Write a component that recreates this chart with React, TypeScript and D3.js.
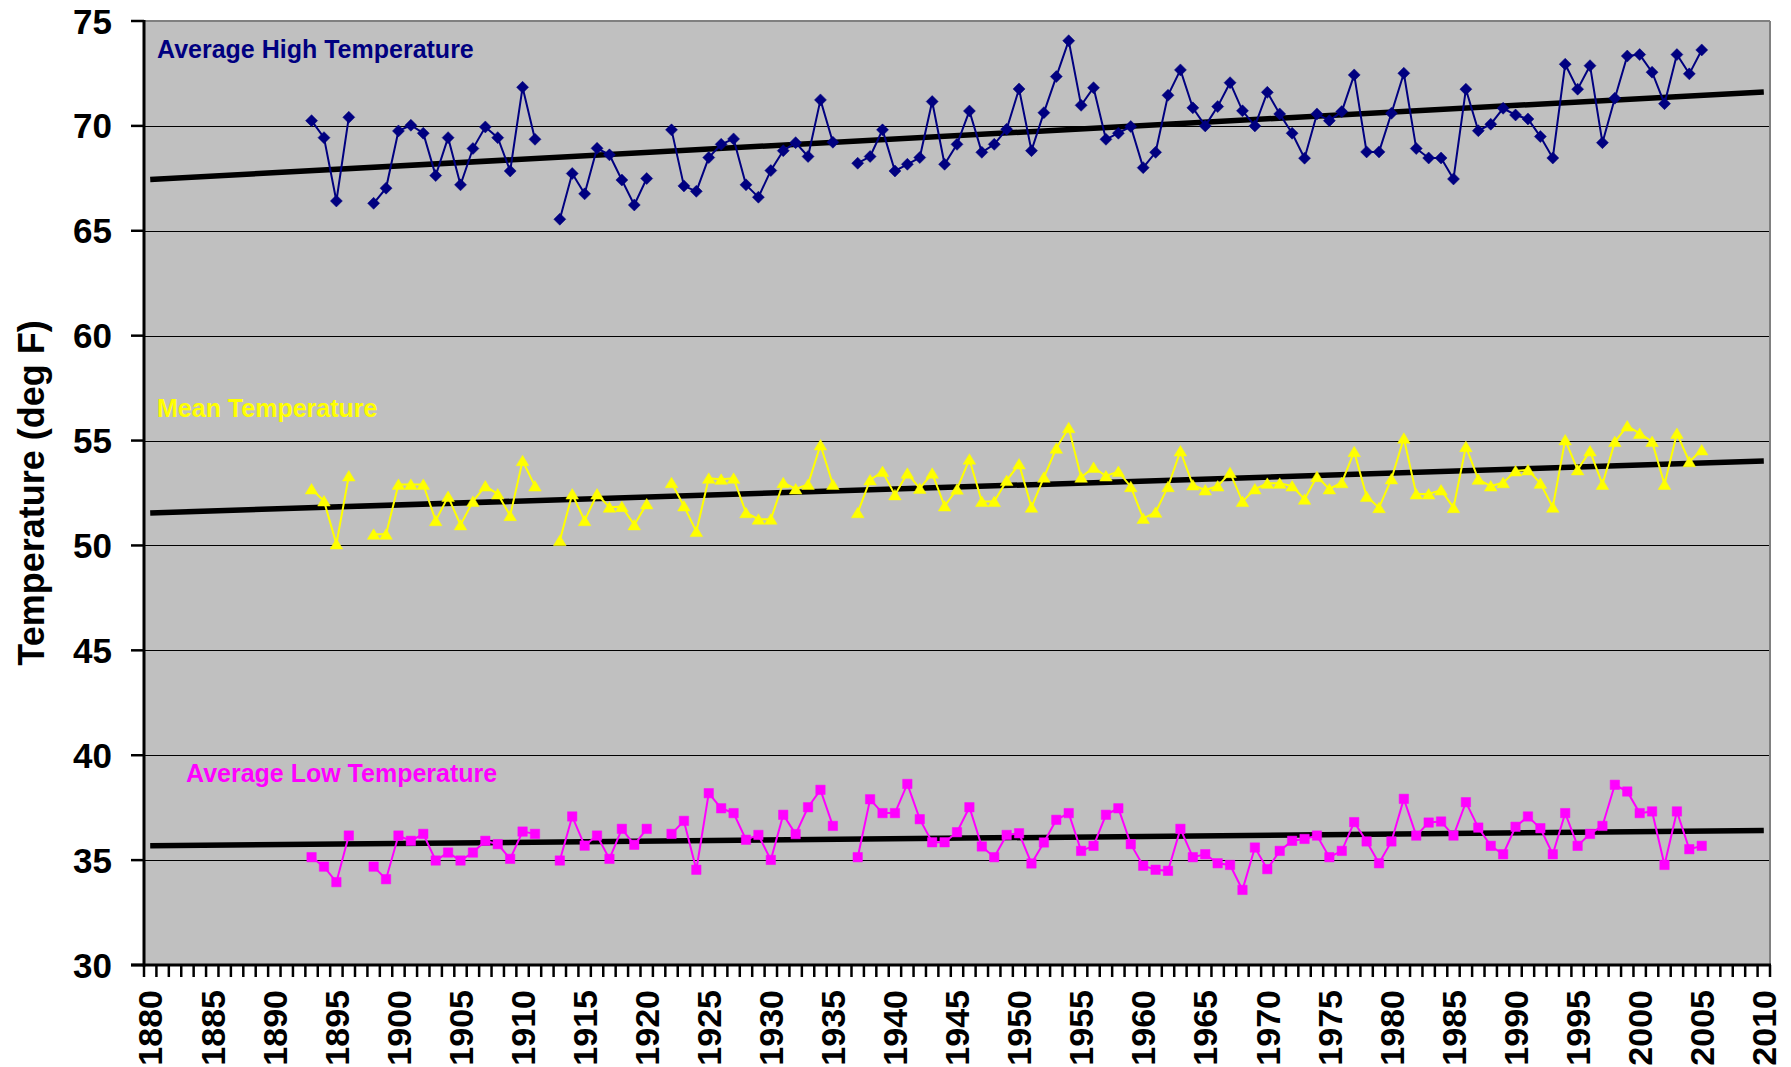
import React from 'react';
import * as d3 from 'd3';

// Category axis: one category per year
const firstYear = 1880;
const lastYear = 2010;
const labelYears = [1880, 1885, 1890, 1895, 1900, 1905, 1910, 1915, 1920, 1925, 1930, 1935, 1940, 1945, 1950, 1955, 1960, 1965, 1970, 1975, 1980, 1985, 1990, 1995, 2000, 2005, 2010];
const yTicks = [30, 35, 40, 45, 50, 55, 60, 65, 70, 75];

// Observed data years 1893..2005 (null = missing year)
const dataStartYear = 1893;

const highTemps: (number | null)[] = [
  70.25, 69.44, 66.42, 70.41, null, 66.31, 67.03,
  69.76, 70.03, 69.65, 67.63, 69.44, 67.19, 68.92, 69.95, 69.44, 67.85,
  71.84, 69.36, null, 65.55, 67.73, 66.76, 68.93, 68.62, 67.42, 66.23,
  67.49, null, 69.81, 67.14, 66.88, 68.49, 69.12, 69.38, 67.19, 66.60,
  67.87, 68.82, 69.20, 68.54, 71.24, 69.22, null, 68.22, 68.54, 69.81,
  67.85, 68.17, 68.49, 71.16, 68.17, 69.12, 70.71, 68.74, 69.12, 69.84,
  71.76, 68.82, 70.63, 72.35, 74.06, 70.98, 71.82, 69.36, 69.65, 69.97,
  68.01, 68.74, 71.46, 72.67, 70.86, 70.00, 70.92, 72.06, 70.72, 70.00,
  71.60, 70.57, 69.65, 68.46, 70.57, 70.25, 70.68, 72.43, 68.76, 68.76,
  70.60, 72.51, 68.92, 68.47, 68.47, 67.47, 71.75, 69.77, 70.08, 70.84,
  70.52, 70.33, 69.49, 68.47, 72.94, 71.75, 72.87, 69.20, 71.32, 73.33,
  73.40, 72.56, 71.06, 73.40, 72.48, 73.62,
];

const meanTemps: (number | null)[] = [
  52.69, 52.12, 50.07, 53.31, null, 50.53, 50.53,
  52.91, 52.91, 52.91, 51.18, 52.33, 50.98, 52.10, 52.83, 52.45, 51.42,
  54.04, 52.83, null, 50.23, 52.45, 51.18, 52.45, 51.82, 51.85, 50.98,
  51.98, null, 52.99, 51.88, 50.66, 53.20, 53.15, 53.20, 51.56, 51.25,
  51.25, 52.99, 52.69, 52.91, 54.79, 52.91, null, 51.56, 53.12, 53.52,
  52.41, 53.44, 52.72, 53.44, 51.88, 52.68, 54.11, 52.09, 52.09, 53.09,
  53.88, 51.82, 53.25, 54.63, 55.61, 53.25, 53.72, 53.31, 53.52, 52.80,
  51.29, 51.58, 52.80, 54.50, 52.88, 52.64, 52.83, 53.47, 52.09, 52.69,
  52.96, 52.96, 52.83, 52.20, 53.28, 52.69, 52.99, 54.47, 52.33, 51.80,
  53.17, 55.11, 52.45, 52.45, 52.64, 51.80, 54.71, 53.15, 52.83, 52.99,
  53.55, 53.60, 52.96, 51.82, 55.03, 53.60, 54.50, 52.91, 54.95, 55.69,
  55.34, 54.95, 52.91, 55.34, 53.99, 54.55,
];

const lowTemps: (number | null)[] = [
  35.14, 34.69, 33.95, 36.17, null, 34.69, 34.09,
  36.17, 35.92, 36.25, 34.98, 35.36, 34.98, 35.36, 35.92, 35.76, 35.06,
  36.36, 36.25, null, 34.98, 37.08, 35.69, 36.17, 35.06, 36.49, 35.73,
  36.49, null, 36.25, 36.87, 34.54, 38.19, 37.47, 37.24, 35.97, 36.20,
  35.01, 37.16, 36.24, 37.52, 38.35, 36.63, null, 35.14, 37.90, 37.24,
  37.24, 38.63, 36.95, 35.85, 35.85, 36.33, 37.52, 35.65, 35.14, 36.20,
  36.28, 34.84, 35.84, 36.92, 37.24, 35.44, 35.68, 37.16, 37.47, 35.76,
  34.73, 34.54, 34.49, 36.49, 35.14, 35.28, 34.85, 34.77, 33.58, 35.60,
  34.57, 35.44, 35.92, 36.01, 36.17, 35.14, 35.44, 36.81, 35.89, 34.85,
  35.89, 37.92, 36.17, 36.79, 36.84, 36.17, 37.76, 36.55, 35.68, 35.28,
  36.59, 37.08, 36.52, 35.28, 37.24, 35.68, 36.25, 36.63, 38.59, 38.27,
  37.24, 37.32, 34.77, 37.32, 35.52, 35.68,
];

// Linear trend lines: value at 1880 and at 2010
const trendYears = [1880, 2010];
const highTrend = [67.45, 71.62];
const meanTrend = [51.55, 54.02];
const lowTrend = [35.68, 36.41];

const seriesLabels = ['Average High Temperature', 'Mean Temperature', 'Average Low Temperature'];
const seriesColors = ['#000080', '#FFFF00', '#FF00FF'];

const FONT = '"Liberation Sans", Arial, Helvetica, sans-serif';

type Pt = [number, number | null];

export default function App() {
  const W = 1791;
  const H = 1067;
  const left = 144;
  const right = 1770;
  const top = 21;
  const bottom = 965;

  const categories = d3.range(firstYear, lastYear + 1);
  const x = d3.scaleBand<number>().domain(categories).range([left, right]).padding(0);
  const cx = (yr: number) => (x(yr) as number) + x.bandwidth() / 2;
  const y = d3.scaleLinear().domain([30, 75]).range([bottom, top]);

  const toPts = (vals: (number | null)[]): Pt[] => vals.map((v, i) => [dataStartYear + i, v]);

  const line = d3
    .line<Pt>()
    .defined((d) => d[1] != null)
    .x((d) => cx(d[0]))
    .y((d) => y(d[1] as number));

  const series = [
    { vals: highTemps, trend: highTrend, color: seriesColors[0], marker: 'diamond' },
    { vals: meanTemps, trend: meanTrend, color: seriesColors[1], marker: 'triangle' },
    { vals: lowTemps, trend: lowTrend, color: seriesColors[2], marker: 'square' },
  ];

  const markerPath = (kind: string) => {
    if (kind === 'diamond') return 'M0,-6L6,0L0,6L-6,0Z';
    if (kind === 'triangle') return 'M0,-5.5L6.3,5L-6.3,5Z';
    return 'M-4.7,-4.7L4.7,-4.7L4.7,4.7L-4.7,4.7Z';
  };

  const gridVals = yTicks.filter((v) => v > 30 && v < 75);
  const tickXs = [...categories.map((c) => x(c) as number), right];

  const labelPos = [
    { x: 157, y: 58 },
    { x: 157, y: 417 },
    { x: 186, y: 782 },
  ];

  return (
    <svg
      width={W}
      height={H}
      style={{ position: 'absolute', left: 0, top: 0, background: '#ffffff' }}
      fontFamily={FONT}
    >
      <rect x={0} y={0} width={W} height={H} fill="#ffffff" />
      {/* plot area */}
      <rect x={left} y={top} width={right - left} height={bottom - top} fill="#C0C0C0" />
      {/* gridlines */}
      {gridVals.map((v) => (
        <line
          key={'g' + v}
          x1={left}
          x2={right}
          y1={Math.round(y(v)) + 0.5}
          y2={Math.round(y(v)) + 0.5}
          stroke="#000"
          strokeWidth={1}
          shapeRendering="crispEdges"
        />
      ))}
      {/* top & right border */}
      <line x1={left} x2={right} y1={top} y2={top} stroke="#808080" strokeWidth={2} />
      <line x1={right} x2={right} y1={top} y2={bottom} stroke="#808080" strokeWidth={2} />

      {/* trend lines */}
      {series.map((s, i) => (
        <path
          key={'t' + i}
          d={line(trendYears.map((yr, k) => [yr, s.trend[k]] as Pt)) || ''}
          fill="none"
          stroke="#000"
          strokeWidth={5.5}
          strokeLinecap="butt"
        />
      ))}

      {/* data series */}
      {series.map((s, i) => {
        const pts = toPts(s.vals);
        return (
          <g key={'s' + i}>
            <path d={line(pts) || ''} fill="none" stroke={s.color} strokeWidth={2} />
            {pts
              .filter((p) => p[1] != null)
              .map((p) => (
                <path
                  key={p[0]}
                  d={markerPath(s.marker)}
                  transform={`translate(${cx(p[0])},${y(p[1] as number)})`}
                  fill={s.color}
                  stroke={s.color}
                  strokeWidth={0.5}
                />
              ))}
          </g>
        );
      })}

      {/* series labels */}
      {seriesLabels.map((t, i) => (
        <text
          key={'l' + i}
          x={labelPos[i].x}
          y={labelPos[i].y}
          fill={seriesColors[i]}
          fontSize={25}
          fontWeight="bold"
        >
          {t}
        </text>
      ))}

      {/* y axis */}
      <line x1={left} x2={left} y1={top - 1} y2={bottom + 1.5} stroke="#000" strokeWidth={3} />
      {yTicks.map((v) => (
        <g key={'yt' + v}>
          <line x1={131} x2={left} y1={y(v)} y2={y(v)} stroke="#000" strokeWidth={2.5} />
          <text
            x={112}
            y={y(v)}
            dy="0.36em"
            textAnchor="end"
            fontSize={35}
            fontWeight="bold"
            fill="#000"
          >
            {v}
          </text>
        </g>
      ))}

      {/* x axis */}
      <line x1={left - 13} x2={right + 1} y1={bottom} y2={bottom} stroke="#000" strokeWidth={3} />
      {tickXs.map((tx, i) => (
        <line key={'xt' + i} x1={tx} x2={tx} y1={bottom} y2={977} stroke="#000" strokeWidth={2.5} />
      ))}
      {labelYears.map((yr) => (
        <text
          key={'xl' + yr}
          transform={`translate(${cx(yr)},990) rotate(-90)`}
          dy="0.36em"
          textAnchor="end"
          fontSize={34}
          fontWeight="bold"
          fill="#000"
        >
          {yr}
        </text>
      ))}

      {/* y axis title */}
      <text
        transform={`translate(31,${(top + bottom) / 2}) rotate(-90)`}
        dy="0.36em"
        textAnchor="middle"
        fontSize={36}
        fontWeight="bold"
        fill="#000"
      >
        Temperature (deg F)
      </text>
    </svg>
  );
}
